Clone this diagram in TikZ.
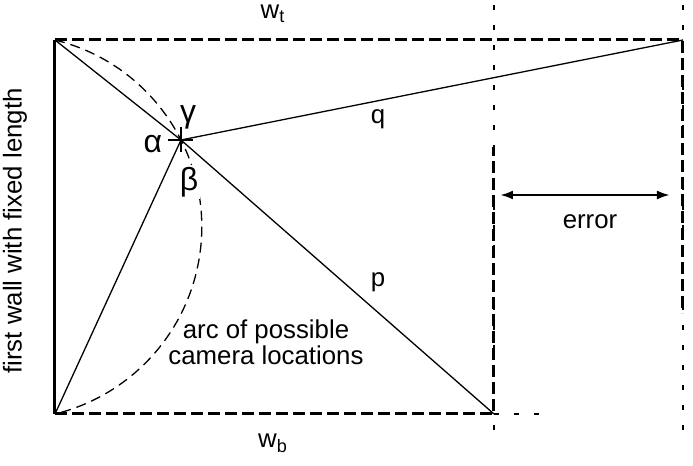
\documentclass[tikz,border=0pt]{standalone}
\usepackage{fontspec}
\setmainfont{Liberation Sans}
\usepackage{tikz}
\usetikzlibrary{arrows.meta}
\tikzset{
  wallline/.style={line width=1.5pt},
  boundline/.style={line width=1.5pt, dash pattern=on 6pt off 2.5pt},
  sightline/.style={line width=0.65pt},
  arcline/.style={line width=0.65pt, dash pattern=on 5pt off 3pt},
  guideline/.style={line width=0.55pt, dash pattern=on 2.5pt off 7.5pt},
  crossmark/.style={line width=1.3pt},
  errarrow/.style={{Latex[length=6.5pt,width=4.5pt]}-{Latex[length=6.5pt,width=4.5pt]}, line width=1.2pt},
  figlabel/.style={font=\fontsize{12.9}{11.5}\selectfont, inner sep=1pt},
  anglelabel/.style={font=\fontsize{16}{16}\selectfont, inner sep=0pt},
}

\begin{document}
\begin{tikzpicture}[x=0.5pt,y=0.5pt]
  \useasboundingbox (0,0) rectangle (693,466);

  % ---------- points ----------
  \coordinate (A) at (55,426);   % top of first wall
  \coordinate (B) at (55,52);    % bottom of first wall
  \coordinate (C) at (181,326);  % camera
  \coordinate (D) at (494,52);
  \coordinate (E) at (683,426);
  \coordinate (Dup)  at (494,319);
  \coordinate (Edn)  at (683,153);
  \coordinate (Dtop) at (494,461);
  \coordinate (Dbot) at (494,26);
  \coordinate (Etop) at (683,461);
  \coordinate (Ebot) at (683,31);
  \coordinate (Dext) at (543,52);
  \coordinate (errL) at (500,271);
  \coordinate (errR) at (670,271);

  % ---------- guides ----------
  \draw[guideline] (Dtop) -- (Dbot);
  \draw[guideline] (Etop) -- (Ebot);
  \draw[guideline] (D) -- (Dext);

  % ---------- walls ----------
  \draw[wallline] (A) -- (B);
  \draw[boundline] (A) -- (E) -- (Edn);
  \draw[boundline] (B) -- (D) -- (Dup);

  % ---------- sight lines ----------
  \draw[sightline] (C) -- (A);
  \draw[sightline] (C) -- (B);
  \draw[sightline] (C) -- (D);
  \draw[sightline] (C) -- (E);

  % ---------- arc of camera positions ----------
  \draw[arcline] (A) arc[start angle=76.26, end angle=-76.26, radius=192.5];

  % ---------- camera ----------
  \draw[crossmark] ([xshift=-6.25pt]C) -- ([xshift=6.25pt]C);
  \draw[crossmark] ([yshift=6.25pt]C) -- ([yshift=-6.25pt]C);

  % ---------- error ----------
  \draw[errarrow] (errL) -- (errR);

  % ---------- labels ----------
  \node[figlabel] (wt) at (273,452) {w\textsubscript{t}};
  \node[figlabel] (wb) at (273,23) {w\textsubscript{b}};
  \node[figlabel, rotate=90] (wall) at (15,235) {first wall with fixed length};
  \node[figlabel] (q) at (378,347) {q};
  \node[figlabel] (p) at (378,184) {p};
  \node[anglelabel] (alpha) at (153,322) {α};
  \node[anglelabel] (gamma) at (188,349) {γ};
  \node[anglelabel, fill=white, inner sep=1pt] (beta) at (189,284) {β};
  \node[figlabel, align=center] (arclabel) at (266,124) {arc of possible\\camera locations};
  \node[figlabel] (errlabel) at (590,244) {error};

\end{tikzpicture}
\end{document}
